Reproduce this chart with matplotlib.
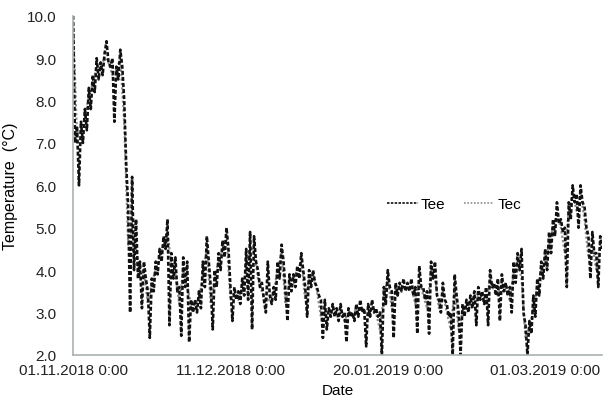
"""Plot the Tee / Tec temperature traces from Nov 2018 to Mar 2019."""

from __future__ import annotations

import matplotlib

matplotlib.use("Agg")
import matplotlib.pyplot as plt
import pandas as pd

plt.rcParams["font.family"] = ["Liberation Sans", "DejaVu Sans"]

START = "2018-11-01"

# Tee, two readings per day (12 h apart)
tee_values = [
    10.0, 7.0, 7.4, 6.0, 7.5, 7.0, 7.8, 7.3, 8.3, 7.8,
    8.6, 8.2, 9.0, 8.5, 8.9, 8.6, 9.1, 9.4, 8.9, 8.8,
    9.0, 7.5, 8.8, 8.5, 9.2, 8.8, 8.0, 6.5, 5.5, 3.0,
    6.2, 4.0, 5.2, 3.8, 4.2, 3.1, 4.2, 3.8, 3.5, 2.4,
    3.8, 3.5, 4.2, 3.9, 4.5, 4.2, 4.8, 4.5, 5.2, 2.7,
    4.4, 3.8, 4.3, 3.5, 3.6, 2.45, 4.3, 3.6, 4.2, 2.3,
    3.3, 3.0, 3.3, 3.0, 3.5, 3.1, 4.2, 3.6, 4.8, 4.2,
    3.6, 2.6, 4.0, 3.6, 4.4, 4.0, 4.7, 4.3, 5.0, 4.5,
    3.6, 2.8, 3.6, 3.3, 3.5, 3.2, 3.8, 3.4, 4.5, 3.3,
    4.9, 2.6, 4.8, 4.2, 4.0, 3.6, 3.7, 3.3, 3.0, 4.2,
    3.4, 3.2, 3.6, 3.3, 4.2, 3.8, 4.6, 4.2, 3.5, 2.8,
    3.9, 3.5, 3.9, 3.6, 4.1, 3.8, 4.4, 4.0, 3.6, 2.9,
    4.0, 3.6, 4.0, 3.7, 3.6, 3.4, 3.3, 2.4, 3.3, 2.6,
    3.1, 2.9, 3.2, 2.9, 3.1, 2.8, 3.2, 2.9, 3.0, 2.3,
    3.1, 2.9, 3.0, 2.8, 3.2, 2.9, 3.3, 3.0, 3.1, 2.2,
    3.2, 2.9, 3.3, 3.0, 3.1, 2.9, 3.0, 2.0, 3.6, 3.2,
    4.0, 3.6, 3.5, 2.4, 3.7, 3.4, 3.7, 3.5, 3.8, 3.5,
    3.7, 3.5, 3.8, 3.4, 3.6, 2.5, 4.1, 3.6, 3.6, 3.3,
    3.5, 2.5, 4.2, 3.8, 4.2, 3.4, 3.3, 3.0, 3.7, 3.3,
    3.2, 2.9, 3.0, 2.0, 3.9, 3.4, 3.0, 2.0, 3.2, 2.9,
    3.3, 3.0, 3.4, 3.1, 3.5, 2.7, 3.6, 3.3, 3.5, 3.2,
    3.6, 2.7, 4.0, 3.6, 3.7, 3.4, 3.8, 2.8, 3.9, 3.5,
    3.7, 3.4, 3.6, 3.0, 4.2, 3.7, 4.4, 4.0, 4.5, 3.0,
    2.7, 2.0, 2.8, 2.5, 3.4, 2.9, 3.8, 3.4, 4.2, 3.8,
    4.5, 4.0, 4.9, 4.4, 5.2, 4.8, 5.6, 5.1, 5.2, 4.9,
    5.0, 3.6, 5.6, 5.2, 6.0, 5.6, 5.8, 5.0, 6.0, 5.6,
    5.5, 5.0, 4.8, 3.8, 4.9, 4.4, 4.4, 3.6, 4.8, 4.5,
]

# Tec, one reading per day
tec_values = [
    9.8, 7.2, 7.3, 7.6, 8.1, 8.4, 8.8, 8.8, 9.0, 8.9,
    8.6, 8.7, 9.0, 7.5, 4.6, 5.0, 4.5, 3.8, 4.0, 3.2,
    3.7, 4.0, 4.3, 4.6, 4.9, 4.1, 3.9, 3.2, 4.0, 3.6,
    3.2, 3.2, 3.3, 3.9, 4.5, 3.2, 3.8, 4.2, 4.5, 4.8,
    3.3, 3.5, 3.3, 3.6, 4.0, 4.5, 4.5, 3.8, 3.5, 3.3,
    3.3, 3.5, 4.0, 4.4, 3.2, 3.7, 3.8, 4.0, 4.2, 3.3,
    3.8, 3.9, 3.5, 2.9, 3.0, 3.0, 3.1, 3.0, 3.0, 2.8,
    3.0, 2.9, 3.1, 3.1, 3.0, 3.0, 3.1, 3.0, 2.6, 3.4,
    3.8, 3.1, 3.6, 3.6, 3.6, 3.6, 3.6, 3.2, 3.8, 3.4,
    3.1, 4.0, 3.8, 3.1, 3.5, 3.0, 2.6, 3.6, 2.6, 3.0,
    3.1, 3.2, 3.2, 3.4, 3.3, 3.2, 3.8, 3.5, 3.4, 3.7,
    3.5, 3.3, 3.9, 4.2, 3.8, 2.4, 2.6, 3.1, 3.6, 4.0,
    4.2, 4.6, 5.0, 5.3, 5.0, 4.4, 5.4, 5.8, 5.4, 5.8,
    5.2, 4.3, 4.6, 4.0, 4.6,
]

tick_dates = ["2018-11-01", "2018-12-11", "2019-01-20", "2019-03-01"]
tick_labels = ["01.11.2018 0:00", "11.12.2018 0:00", "20.01.2019 0:00", "01.03.2019 0:00"]
y_ticks = [2.0, 3.0, 4.0, 5.0, 6.0, 7.0, 8.0, 9.0, 10.0]


def main() -> None:
    tee_time = pd.date_range(START, periods=len(tee_values), freq="12h")
    tec_time = pd.date_range(START, periods=len(tec_values), freq="D")

    fig = plt.figure(figsize=(6.04, 4.10), dpi=100)
    ax = fig.add_axes([0.121, 0.132, 0.876, 0.827])

    ax.plot(tec_time, tec_values, color="#8c8c8c", lw=1.6, ls=(0, (1, 1)), label="Tec")
    ax.plot(tee_time, tee_values, color="#111111", lw=1.9, ls=(0, (1.5, 0.8)), label="Tee")

    ax.set_xlim(pd.Timestamp(START), tee_time[-1])
    ax.set_ylim(2.0, 10.0)
    ax.set_xticks(pd.to_datetime(tick_dates))
    ax.set_xticklabels(tick_labels)
    ax.set_yticks(y_ticks)
    ax.set_yticklabels([f"{v:.1f}" for v in y_ticks])
    ax.tick_params(axis="both", length=0, labelsize=11, colors="#222222")
    ax.tick_params(axis="y", pad=12)
    ax.tick_params(axis="x", pad=6)

    for side in ("top", "right"):
        ax.spines[side].set_visible(False)
    for side in ("left", "bottom"):
        ax.spines[side].set_color("#a9b3ae")
        ax.spines[side].set_linewidth(1.2)

    ax.set_xlabel("Date", fontsize=11, labelpad=4)
    ax.set_ylabel("Temperature  (°C)", fontsize=11.5, labelpad=6)

    handles, labels = ax.get_legend_handles_labels()
    leg = ax.legend(handles[::-1], labels[::-1], loc="center", bbox_to_anchor=(0.72, 0.445),
                    ncol=2, frameon=False, fontsize=11, handlelength=2.0, handletextpad=0.2,
                    columnspacing=1.2)
    for line in leg.get_lines():
        line.set_linewidth(1.2)

    fig.savefig("out.png", dpi=100)


if __name__ == "__main__":
    main()
